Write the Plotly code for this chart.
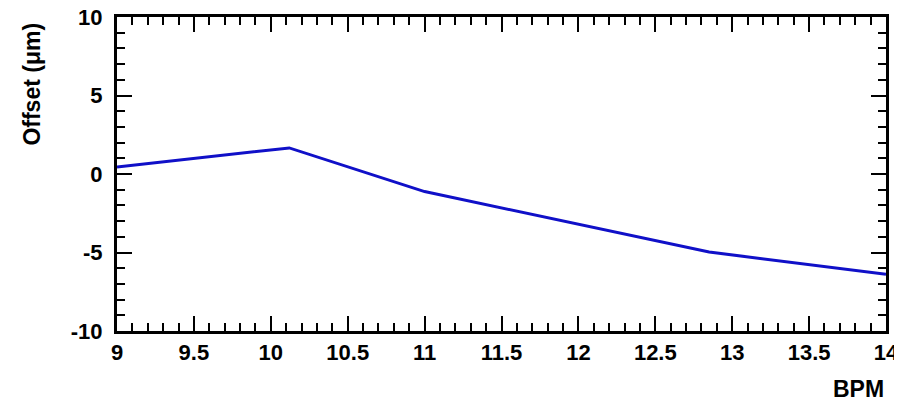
import plotly.graph_objects as go

bpm = [9.0, 10.12, 11.0, 12.85, 14.0]
offset = [0.45, 1.66, -1.12, -4.97, -6.38]

x_ticks = [9, 9.5, 10, 10.5, 11, 11.5, 12, 12.5, 13, 13.5, 14]
x_labels = ["9", "9.5", "10", "10.5", "11", "11.5", "12", "12.5", "13", "13.5", "14"]
y_ticks = [-10, -5, 0, 5, 10]
y_labels = ["-10", "-5", "0", "5", "10"]

FONT = "Liberation Sans, Arial, Helvetica, sans-serif"

fig = go.Figure()
fig.add_trace(go.Scatter(x=bpm, y=offset, mode="lines",
                         line=dict(color="#1010c8", width=3), showlegend=False))

axis_common = dict(
    showgrid=False, zeroline=False, showline=True, linecolor="black", linewidth=3,
    ticks="inside", mirror="allticks", tickcolor="black", tickwidth=2, automargin=False,
    ticklabeloverflow="allow",
    tickfont=dict(family=FONT, size=22, color="black", weight="bold"),
)

fig.update_xaxes(range=[9, 14], tickvals=x_ticks, ticktext=x_labels, ticklen=15,
                 minor=dict(ticks="inside", ticklen=8, dtick=0.1, tickcolor="black", tickwidth=2),
                 ticklabelstandoff=0, **axis_common)
fig.update_yaxes(range=[-10, 10], tickvals=y_ticks, ticktext=y_labels, ticklen=15,
                 minor=dict(ticks="inside", ticklen=8, dtick=1, tickcolor="black", tickwidth=2),
                 ticklabelstandoff=7, **axis_common)

fig.add_annotation(text="BPM", xref="paper", yref="paper", x=1.0, y=-0.2324,
                   xanchor="right", yanchor="bottom", showarrow=False,
                   font=dict(family=FONT, size=23, color="black", weight="bold"))
fig.add_annotation(text="Offset (μm)", xref="paper", yref="paper", x=-0.1105, y=0.987,
                   xanchor="center", yanchor="top", textangle=-90, showarrow=False,
                   font=dict(family=FONT, size=23, color="black", weight="bold"))

# page body has an 8px margin, so the figure is sized to fill the rest of the window
fig.update_layout(template="none", width=894, height=392, autosize=False,
                  margin=dict(l=109, r=16, t=9, b=69),
                  paper_bgcolor="white", plot_bgcolor="white")

fig.write_html("out.html")
